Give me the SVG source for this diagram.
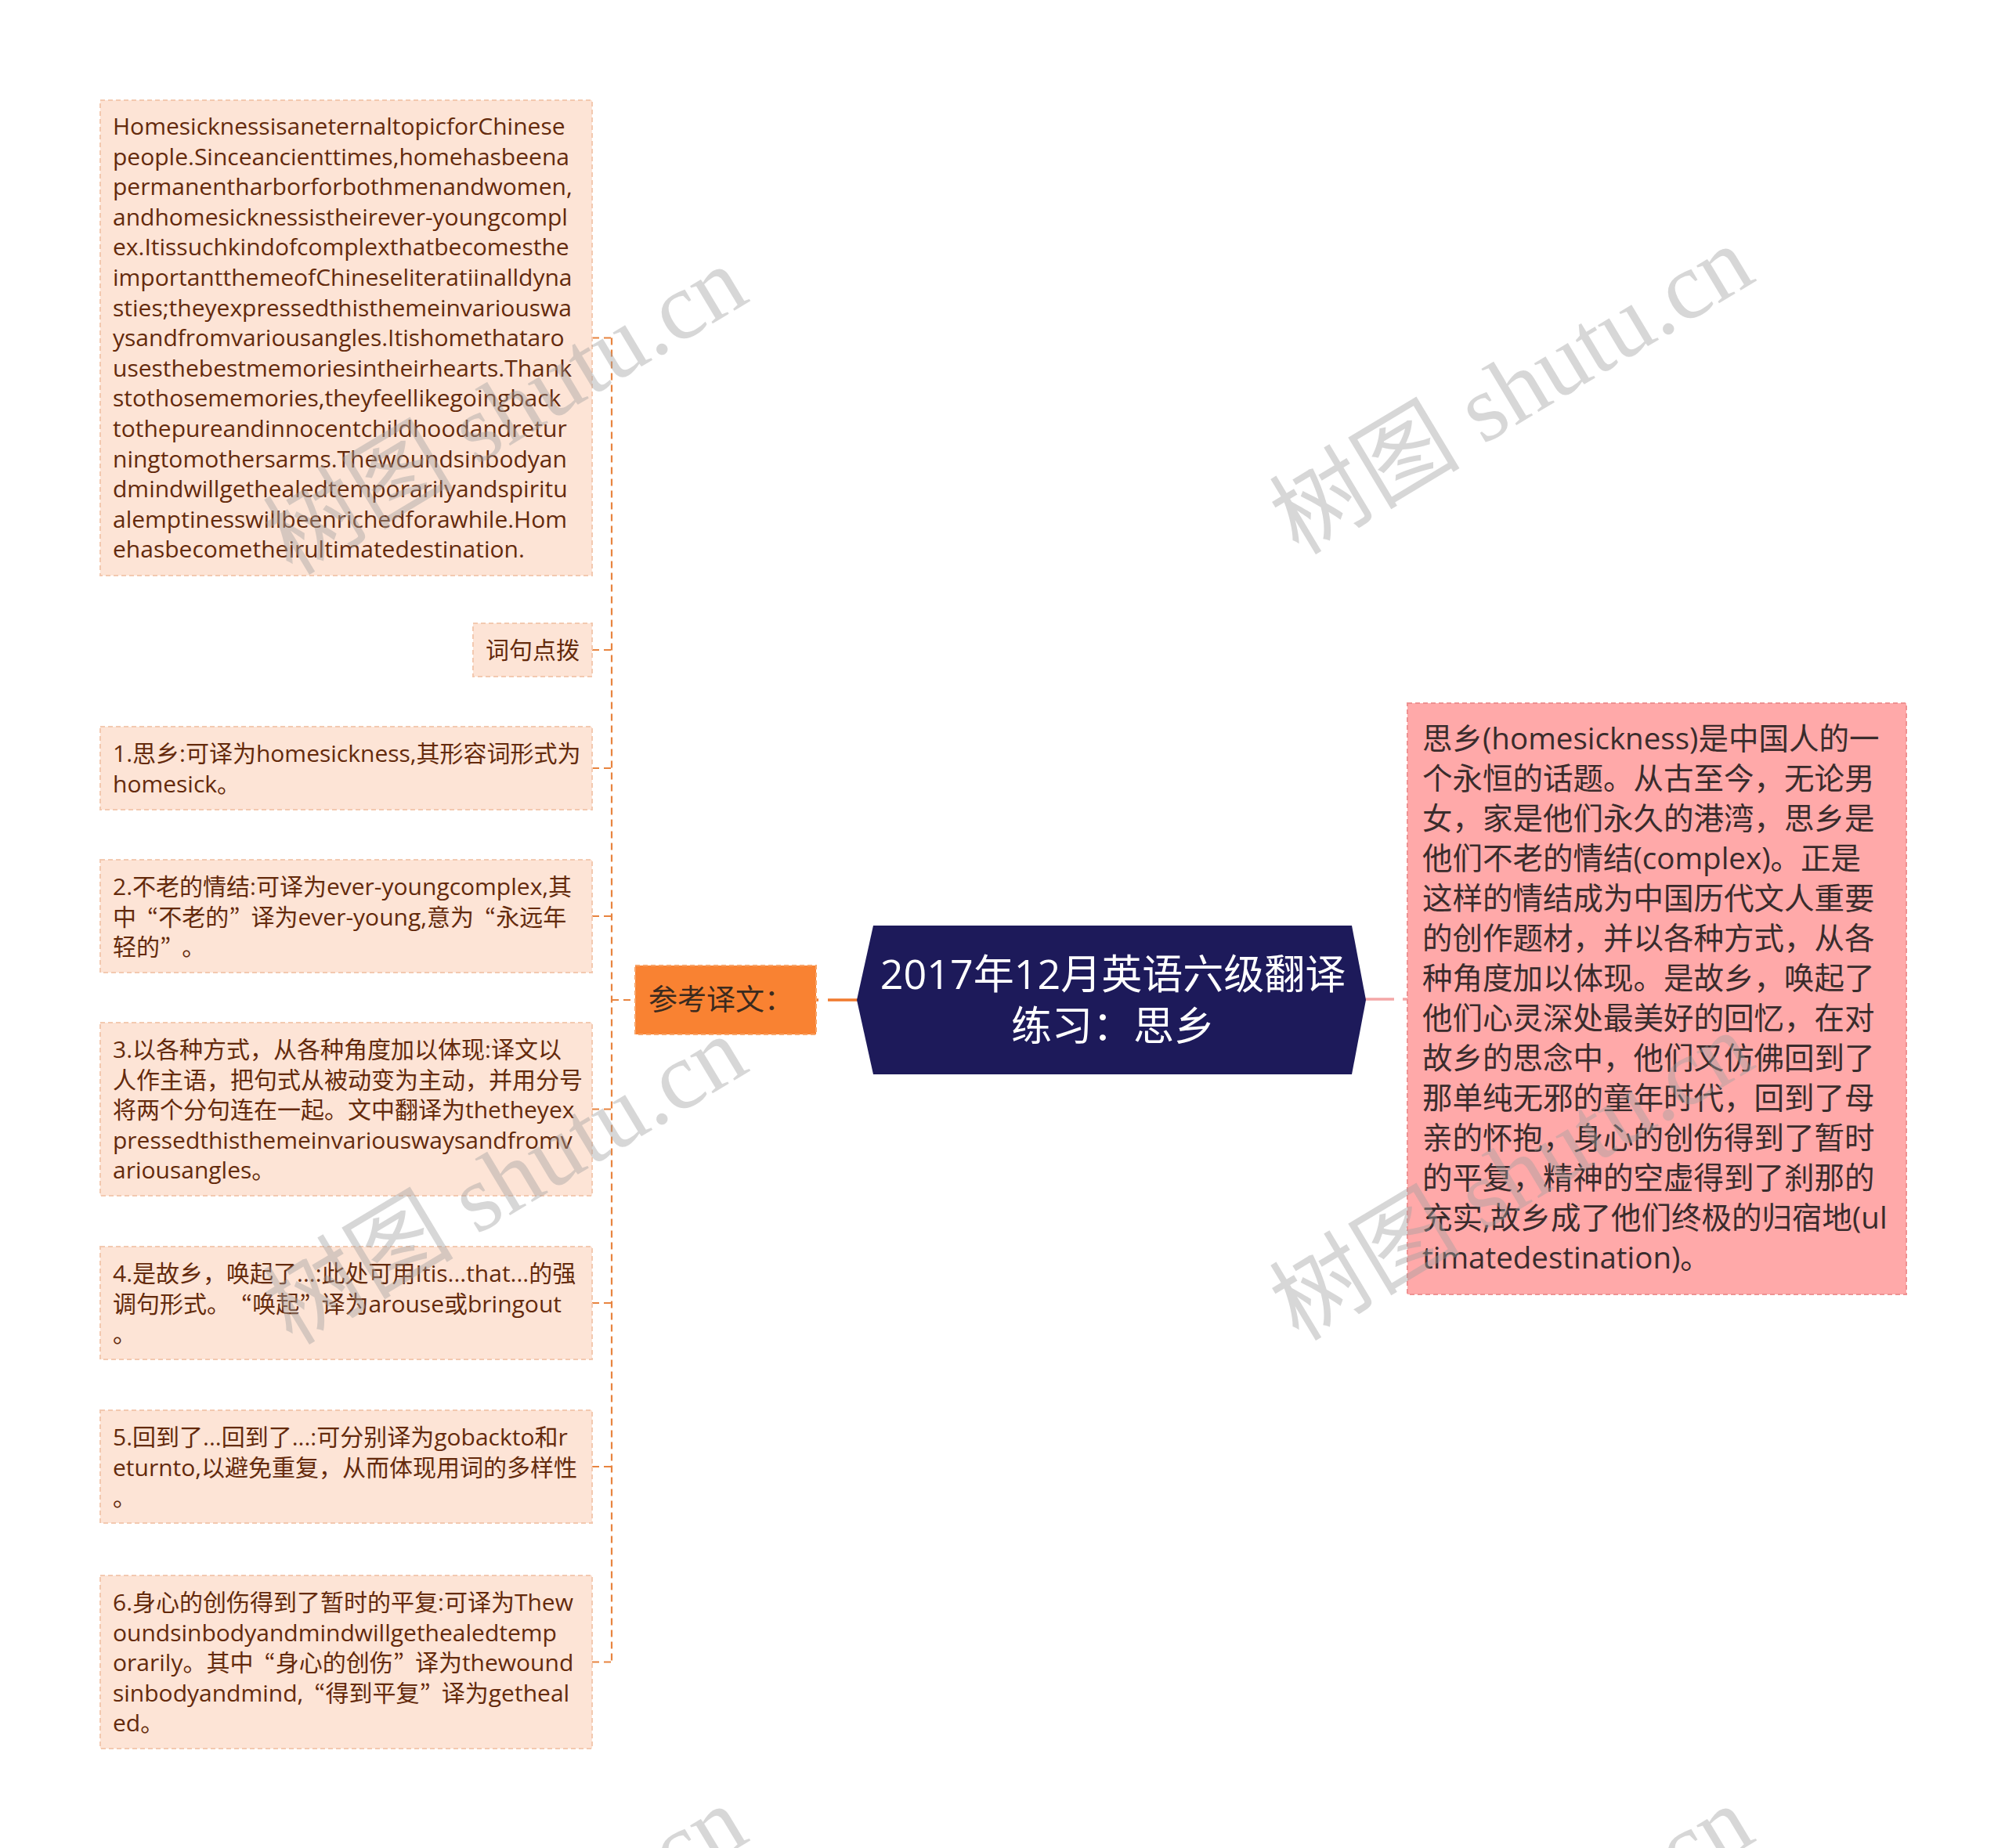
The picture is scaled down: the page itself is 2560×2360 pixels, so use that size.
<svg xmlns="http://www.w3.org/2000/svg" width="2560" height="2360" viewBox="0 0 2560 2360">
<style>
.lbox{fill:#fde4d6;stroke:#f3c9b0;stroke-width:2;stroke-dasharray:6 4}
.ltxt{font-family:"Open Sans","Noto Sans CJK SC",sans-serif;font-size:30px;fill:#642a0c}
.q{font-family:"Noto Sans CJK JP","Noto Sans CJK SC",sans-serif}
.qc{font-family:"Noto Sans CJK JP","Noto Sans CJK SC",sans-serif;letter-spacing:14px}
.rbox{fill:#ffa9a9;stroke:#ee9191;stroke-width:2;stroke-dasharray:6 4}
.rtxt{font-family:"Open Sans","Noto Sans CJK SC",sans-serif;font-size:38.5px;fill:#3a2c2c}
.obox{fill:#f98232;stroke:#f7a468;stroke-width:2;stroke-dasharray:6 4}
.otxt{font-family:"Noto Sans CJK SC",sans-serif;font-size:37px;fill:#3b2a1e}
.ctxt{font-family:"Open Sans","Noto Sans CJK SC",sans-serif;font-size:52px;fill:#ffffff;text-anchor:middle}
.conn{fill:none;stroke:#e8843f;stroke-width:2.2;stroke-dasharray:9 6}
.wm{font-family:"Liberation Serif","Noto Sans CJK SC",serif;font-size:122px;fill:#a0a0a0;fill-opacity:0.42}
</style>
<rect width="2560" height="2360" fill="#ffffff"/>

<g id="connectors">
<path class="conn" d="M781 431.5 V2122.5"/>
<path class="conn" d="M756 431.5 H781"/>
<path class="conn" d="M756 830 H781"/>
<path class="conn" d="M756 981 H781"/>
<path class="conn" d="M756 1170 H781"/>
<path class="conn" d="M756 1416.5 H781"/>
<path class="conn" d="M756 1664 H781"/>
<path class="conn" d="M756 1873 H781"/>
<path class="conn" d="M756 2122.5 H781"/>
<path class="conn" d="M781 1277 H811"/>
<path d="M1040 1277 H1096" fill="none" stroke="#f07a2e" stroke-width="3.5" stroke-dasharray="5 12 100"/>
<path d="M1743 1276 H1797" fill="none" stroke="#f4a7a7" stroke-width="3.5" stroke-dasharray="37 11 10"/>
</g>

<g id="node-center">
<polygon points="1094,1277 1115,1182 1726,1182 1744,1277 1726,1372 1115,1372" fill="#1d1a5a"/>
<text class="ctxt" x="1421" y="1263">2017年12月英语六级翻译</text>
<text class="ctxt" x="1421" y="1329">练习：思乡</text>
</g>

<g id="node-ref">
<rect class="obox" x="811" y="1233" width="231" height="88"/>
<text class="otxt" x="828" y="1290">参考译文：</text>
</g>

<g id="node-right">
<rect class="rbox" x="1797" y="898" width="637" height="755"/>
<text class="rtxt" x="1816" y="957">
<tspan x="1816">思乡(homesickness)是中国人的一</tspan>
<tspan x="1816" dy="51">个永恒的话题。从古至今，无论男</tspan>
<tspan x="1816" dy="51">女，家是他们永久的港湾，思乡是</tspan>
<tspan x="1816" dy="51">他们不老的情结(complex)。正是</tspan>
<tspan x="1816" dy="51">这样的情结成为中国历代文人重要</tspan>
<tspan x="1816" dy="51">的创作题材，并以各种方式，从各</tspan>
<tspan x="1816" dy="51">种角度加以体现。是故乡，唤起了</tspan>
<tspan x="1816" dy="51">他们心灵深处最美好的回忆，在对</tspan>
<tspan x="1816" dy="51">故乡的思念中，他们又仿佛回到了</tspan>
<tspan x="1816" dy="51">那单纯无邪的童年时代，回到了母</tspan>
<tspan x="1816" dy="51">亲的怀抱，身心的创伤得到了暂时</tspan>
<tspan x="1816" dy="51">的平复，精神的空虚得到了刹那的</tspan>
<tspan x="1816" dy="51">充实,故乡成了他们终极的归宿地(ul</tspan>
<tspan x="1816" dy="51">timatedestination)。</tspan>
</text>
</g>

<g id="node-english">
<rect class="lbox" x="128" y="128" width="628" height="607"/>
<text class="ltxt" x="144" y="172">
<tspan x="144">HomesicknessisaneternaltopicforChinese</tspan>
<tspan x="144" dy="38.6">people.Sinceancienttimes,homehasbeena</tspan>
<tspan x="144" dy="38.6">permanentharborforbothmenandwomen,</tspan>
<tspan x="144" dy="38.6">andhomesicknessistheirever-youngcompl</tspan>
<tspan x="144" dy="38.6">ex.Itissuchkindofcomplexthatbecomesthe</tspan>
<tspan x="144" dy="38.6">importantthemeofChineseliteratiinalldyna</tspan>
<tspan x="144" dy="38.6">sties;theyexpressedthisthemeinvariouswa</tspan>
<tspan x="144" dy="38.6">ysandfromvariousangles.Itishomethataro</tspan>
<tspan x="144" dy="38.6">usesthebestmemoriesintheirhearts.Thank</tspan>
<tspan x="144" dy="38.6">stothosememories,theyfeellikegoingback</tspan>
<tspan x="144" dy="38.6">tothepureandinnocentchildhoodandretur</tspan>
<tspan x="144" dy="38.6">ningtomothersarms.Thewoundsinbodyan</tspan>
<tspan x="144" dy="38.6">dmindwillgethealedtemporarilyandspiritu</tspan>
<tspan x="144" dy="38.6">alemptinesswillbeenrichedforawhile.Hom</tspan>
<tspan x="144" dy="38.6">ehasbecometheirultimatedestination.</tspan>
</text>
</g>

<g id="node-tips">
<rect class="lbox" x="604" y="796" width="152" height="68"/>
<text class="ltxt" x="620" y="841">词句点拨</text>
</g>

<g id="node-1">
<rect class="lbox" x="128" y="928" width="628" height="106"/>
<text class="ltxt" x="144" y="973">
<tspan x="144">1.思乡:可译为homesickness,其形容词形式为</tspan>
<tspan x="144" dy="38.6">homesick。</tspan>
</text>
</g>

<g id="node-2">
<rect class="lbox" x="128" y="1098" width="628" height="144"/>
<text class="ltxt" x="144" y="1143">
<tspan x="144">2.不老的情结:可译为ever-youngcomplex,其</tspan>
<tspan x="144" dy="38.6">中<tspan class="q" dx="14">“</tspan>不老的<tspan class="qc">”</tspan>译为ever-young,意为<tspan class="q" dx="14">“</tspan>永远年</tspan>
<tspan x="144" dy="38.6">轻的<tspan class="qc">”</tspan>。</tspan>
</text>
</g>

<g id="node-3">
<rect class="lbox" x="128" y="1306" width="628" height="221"/>
<text class="ltxt" x="144" y="1351">
<tspan x="144">3.以各种方式，从各种角度加以体现:译文以</tspan>
<tspan x="144" dy="38.6">人作主语，把句式从被动变为主动，并用分号</tspan>
<tspan x="144" dy="38.6">将两个分句连在一起。文中翻译为thetheyex</tspan>
<tspan x="144" dy="38.6">pressedthisthemeinvariouswaysandfromv</tspan>
<tspan x="144" dy="38.6">ariousangles。</tspan>
</text>
</g>

<g id="node-4">
<rect class="lbox" x="128" y="1592" width="628" height="144"/>
<text class="ltxt" x="144" y="1637">
<tspan x="144">4.是故乡，唤起了...:此处可用Itis...that...的强</tspan>
<tspan x="144" dy="38.6">调句形式。<tspan class="q" dx="14">“</tspan>唤起<tspan class="qc">”</tspan>译为arouse或bringout</tspan>
<tspan x="144" dy="38.6">。</tspan>
</text>
</g>

<g id="node-5">
<rect class="lbox" x="128" y="1801" width="628" height="144"/>
<text class="ltxt" x="144" y="1846">
<tspan x="144">5.回到了...回到了...:可分别译为gobackto和r</tspan>
<tspan x="144" dy="38.6">eturnto,以避免重复，从而体现用词的多样性</tspan>
<tspan x="144" dy="38.6">。</tspan>
</text>
</g>

<g id="node-6">
<rect class="lbox" x="128" y="2012" width="628" height="221"/>
<text class="ltxt" x="144" y="2057">
<tspan x="144">6.身心的创伤得到了暂时的平复:可译为Thew</tspan>
<tspan x="144" dy="38.6">oundsinbodyandmindwillgethealedtemp</tspan>
<tspan x="144" dy="38.6">orarily。其中<tspan class="q" dx="14">“</tspan>身心的创伤<tspan class="qc">”</tspan>译为thewound</tspan>
<tspan x="144" dy="38.6">sinbodyandmind,<tspan class="q" dx="14">“</tspan>得到平复<tspan class="qc">”</tspan>译为getheal</tspan>
<tspan x="144" dy="38.6">ed。</tspan>
</text>
</g>

<g id="watermarks">
<text class="wm" transform="translate(373 736) rotate(-31)">树图 shutu.cn</text>
<text class="wm" transform="translate(1658 710) rotate(-31)">树图 shutu.cn</text>
<text class="wm" transform="translate(373 1719) rotate(-31)">树图 shutu.cn</text>
<text class="wm" transform="translate(1658 1714) rotate(-31)">树图 shutu.cn</text>
<text class="wm" transform="translate(373 2702) rotate(-31)">树图 shutu.cn</text>
<text class="wm" transform="translate(1658 2702) rotate(-31)">树图 shutu.cn</text>
</g>
</svg>
